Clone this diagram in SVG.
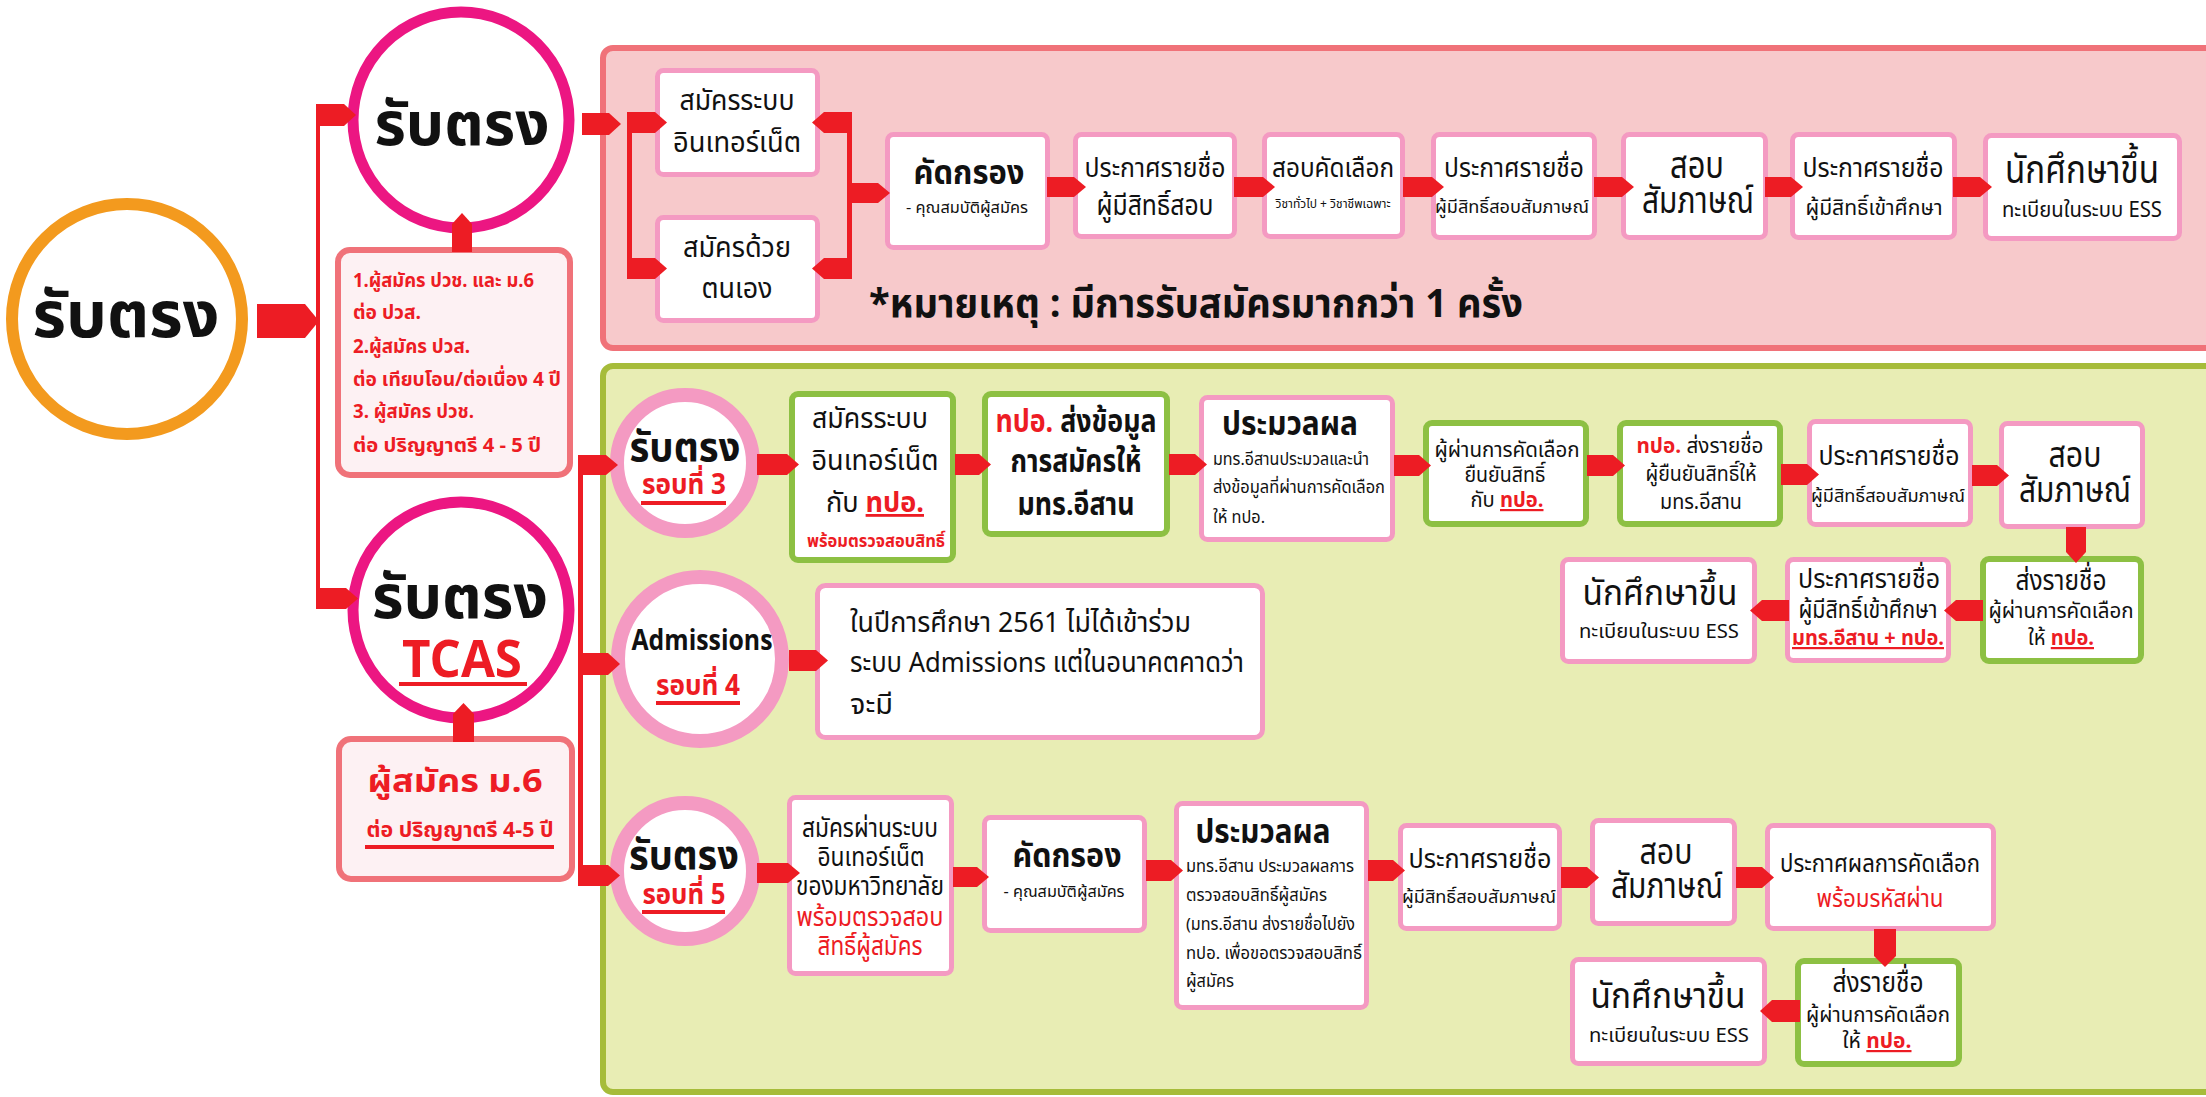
<svg xmlns="http://www.w3.org/2000/svg" width="2206" height="1097" viewBox="0 0 2206 1097">
<style>
text{font-family:'Noto Sans Thai','Noto Sans',sans-serif;fill:#111;text-anchor:middle}
.b{font-weight:bold}
.r{fill:#ED1C24}
.s{text-anchor:start}
.u{text-decoration:underline}
.arr{fill:#ED1C24}
.pb{fill:#fff;stroke:#F49AC2;stroke-width:5}
.gb{fill:#fff;stroke:#8DC043;stroke-width:6}
.sb{fill:#FDF1F3;stroke:#F07279;stroke-width:6}
.ring{fill:#fff;stroke:#F49AC2;stroke-width:14}
.mag{fill:#fff;stroke:#EC1682;stroke-width:11}
</style>
<rect width="2206" height="1097" fill="#fff"/>
<g id="panel-top"><rect x="603" y="48" width="1640" height="300" rx="10" fill="#F7C9CB" stroke="#F07279" stroke-width="6"/></g>
<g id="panel-tcas"><rect x="603" y="366" width="1640" height="726" rx="10" fill="#E8EDB4" stroke="#A6BC3A" stroke-width="6"/></g>

<g id="n-main"><circle cx="127" cy="319" r="115" fill="#fff" stroke="#F39A1E" stroke-width="12"/><text class="b" x="126" y="337" font-size="64" textLength="187" lengthAdjust="spacingAndGlyphs">รับตรง</text></g>
<g id="n-direct"><circle class="mag" cx="461" cy="120" r="108"/><text class="b" x="462" y="145" font-size="60" textLength="175" lengthAdjust="spacingAndGlyphs">รับตรง</text></g>
<g id="n-direct-note"><rect class="sb" x="338" y="250" width="232" height="225" rx="12"/>
<text class="b r s" x="353" y="287" font-size="20" textLength="181" lengthAdjust="spacingAndGlyphs">1.ผู้สมัคร ปวช. และ ม.6</text>
<text class="b r s" x="353" y="319" font-size="20" textLength="68" lengthAdjust="spacingAndGlyphs">ต่อ ปวส.</text>
<text class="b r s" x="353" y="353" font-size="20" textLength="117" lengthAdjust="spacingAndGlyphs">2.ผู้สมัคร ปวส.</text>
<text class="b r s" x="353" y="386" font-size="20" textLength="208" lengthAdjust="spacingAndGlyphs">ต่อ เทียบโอน/ต่อเนื่อง 4 ปี</text>
<text class="b r s" x="353" y="418" font-size="20" textLength="121" lengthAdjust="spacingAndGlyphs">3. ผู้สมัคร ปวช.</text>
<text class="b r s" x="353" y="452" font-size="20" textLength="188" lengthAdjust="spacingAndGlyphs">ต่อ ปริญญาตรี 4 - 5 ปี</text></g>
<g id="n-tcas"><circle class="mag" cx="461" cy="610" r="108"/><text class="b" x="460" y="618" font-size="60" textLength="176" lengthAdjust="spacingAndGlyphs">รับตรง</text><text class="b r" x="462" y="677" font-size="52" textLength="120" lengthAdjust="spacingAndGlyphs">TCAS</text><rect class="arr" x="399" y="682" width="128" height="4"/></g>
<g id="n-tcas-note"><rect class="sb" x="339" y="739" width="233" height="140" rx="12"/>
<text class="b r" x="455" y="792" font-size="32" textLength="175" lengthAdjust="spacingAndGlyphs">ผู้สมัคร ม.6</text>
<text class="b r" x="460" y="837" font-size="22" textLength="187" lengthAdjust="spacingAndGlyphs">ต่อ ปริญญาตรี 4-5 ปี</text><rect class="arr" x="365" y="845" width="189" height="4"/></g>

<g id="n-t1"><rect class="pb" x="657.5" y="70.5" width="160" height="104" rx="6"/><text x="737" y="110" font-size="28" textLength="115" lengthAdjust="spacingAndGlyphs">สมัครระบบ</text><text x="737" y="152" font-size="28" textLength="128" lengthAdjust="spacingAndGlyphs">อินเทอร์เน็ต</text></g>
<g id="n-t2"><rect class="pb" x="657.5" y="217.5" width="160" height="103" rx="6"/><text x="737" y="257" font-size="28" textLength="108" lengthAdjust="spacingAndGlyphs">สมัครด้วย</text><text x="737" y="298" font-size="28" textLength="71" lengthAdjust="spacingAndGlyphs">ตนเอง</text></g>
<g id="n-t3"><rect class="pb" x="887.5" y="134.5" width="160" height="113" rx="6"/><text class="b" x="969" y="184" font-size="34" textLength="111" lengthAdjust="spacingAndGlyphs">คัดกรอง</text><text x="967" y="213" font-size="15" textLength="122" lengthAdjust="spacingAndGlyphs">- คุณสมบัติผู้สมัคร</text></g>
<g id="n-t4"><rect class="pb" x="1075.5" y="134.5" width="159" height="102" rx="6"/><text x="1155" y="177" font-size="26" textLength="141" lengthAdjust="spacingAndGlyphs">ประกาศรายชื่อ</text><text x="1155" y="215" font-size="28" textLength="117" lengthAdjust="spacingAndGlyphs">ผู้มีสิทธิ์สอบ</text></g>
<g id="n-t5"><rect class="pb" x="1264.5" y="134.5" width="138" height="102" rx="6"/><text x="1333" y="177" font-size="26" textLength="122" lengthAdjust="spacingAndGlyphs">สอบคัดเลือก</text><text x="1333" y="208" font-size="13" textLength="115" lengthAdjust="spacingAndGlyphs">วิชาทั่วไป + วิชาชีพเฉพาะ</text></g>
<g id="n-t6"><rect class="pb" x="1433.5" y="134.5" width="161" height="103" rx="6"/><text x="1514" y="177" font-size="26" textLength="140" lengthAdjust="spacingAndGlyphs">ประกาศรายชื่อ</text><text x="1512" y="213" font-size="18" textLength="154" lengthAdjust="spacingAndGlyphs">ผู้มีสิทธิ์สอบสัมภาษณ์</text></g>
<g id="n-t7"><rect class="pb" x="1623.5" y="134.5" width="142" height="103" rx="6"/><text x="1697" y="178" font-size="38" textLength="54" lengthAdjust="spacingAndGlyphs">สอบ</text><text x="1698" y="213" font-size="38" textLength="112" lengthAdjust="spacingAndGlyphs">สัมภาษณ์</text></g>
<g id="n-t8"><rect class="pb" x="1792.5" y="134.5" width="162" height="103" rx="6"/><text x="1873" y="177" font-size="26" textLength="141" lengthAdjust="spacingAndGlyphs">ประกาศรายชื่อ</text><text x="1874" y="215" font-size="22" textLength="137" lengthAdjust="spacingAndGlyphs">ผู้มีสิทธิ์เข้าศึกษา</text></g>
<g id="n-t9"><rect class="pb" x="1985.5" y="135.5" width="194" height="103" rx="6"/><text x="2082" y="183" font-size="40" textLength="154" lengthAdjust="spacingAndGlyphs">นักศึกษาขึ้น</text><text x="2082" y="217" font-size="22" textLength="160" lengthAdjust="spacingAndGlyphs">ทะเบียนในระบบ ESS</text></g>
<g id="n-note"><text class="b s" x="869" y="317" font-size="40" textLength="654" lengthAdjust="spacingAndGlyphs">*หมายเหตุ : มีการรับสมัครมากกว่า 1 ครั้ง</text></g>

<g id="n-r3"><circle class="ring" cx="685" cy="463" r="68"/><text class="b" x="685" y="461" font-size="40" textLength="111" lengthAdjust="spacingAndGlyphs">รับตรง</text><text class="b r" x="684" y="494" font-size="28" textLength="84" lengthAdjust="spacingAndGlyphs">รอบที่ 3</text><rect class="arr" x="641" y="501" width="85" height="4"/></g>
<g id="n-r3a"><rect class="gb" x="792" y="394" width="161" height="166" rx="6"/><text x="870" y="428" font-size="28" textLength="116" lengthAdjust="spacingAndGlyphs">สมัครระบบ</text><text x="875" y="470" font-size="28" textLength="127" lengthAdjust="spacingAndGlyphs">อินเทอร์เน็ต</text><text x="875" y="512" font-size="28" textLength="98" lengthAdjust="spacingAndGlyphs">กับ <tspan class="b r u">ทปอ.</tspan></text><text class="b r" x="876" y="547" font-size="17" textLength="138" lengthAdjust="spacingAndGlyphs">พร้อมตรวจสอบสิทธิ์</text></g>
<g id="n-r3b"><rect class="gb" x="985" y="394" width="182" height="140" rx="6"/><text class="b" x="1076" y="432" font-size="31" textLength="161" lengthAdjust="spacingAndGlyphs"><tspan class="r">ทปอ.</tspan> ส่งข้อมูล</text><text class="b" x="1076" y="472" font-size="31" textLength="131" lengthAdjust="spacingAndGlyphs">การสมัครให้</text><text class="b" x="1076" y="515" font-size="31" textLength="117" lengthAdjust="spacingAndGlyphs">มทร.อีสาน</text></g>
<g id="n-r3c"><rect class="pb" x="1201.5" y="397.5" width="191" height="142" rx="6"/><text class="b" x="1290" y="435" font-size="33" textLength="136" lengthAdjust="spacingAndGlyphs">ประมวลผล</text><text class="s" x="1213" y="465" font-size="17" textLength="156" lengthAdjust="spacingAndGlyphs">มทร.อีสานประมวลและนำ</text><text class="s" x="1213" y="493" font-size="17" textLength="172" lengthAdjust="spacingAndGlyphs">ส่งข้อมูลที่ผ่านการคัดเลือก</text><text class="s" x="1213" y="523" font-size="17" textLength="52" lengthAdjust="spacingAndGlyphs">ให้ ทปอ.</text></g>
<g id="n-r3d"><rect class="gb" x="1426" y="423" width="160" height="101" rx="6"/><text x="1507" y="457" font-size="22" textLength="145" lengthAdjust="spacingAndGlyphs">ผู้ผ่านการคัดเลือก</text><text x="1505" y="482" font-size="22" textLength="81" lengthAdjust="spacingAndGlyphs">ยืนยันสิทธิ์</text><text x="1507" y="507" font-size="22" textLength="73" lengthAdjust="spacingAndGlyphs">กับ <tspan class="b r u">ทปอ.</tspan></text></g>
<g id="n-r3e"><rect class="gb" x="1620" y="423" width="160" height="101" rx="6"/><text x="1700" y="453" font-size="22" textLength="127" lengthAdjust="spacingAndGlyphs"><tspan class="b r">ทปอ.</tspan> ส่งรายชื่อ</text><text x="1701" y="481" font-size="22" textLength="111" lengthAdjust="spacingAndGlyphs">ผู้ยืนยันสิทธิ์ให้</text><text x="1701" y="509" font-size="22" textLength="82" lengthAdjust="spacingAndGlyphs">มทร.อีสาน</text></g>
<g id="n-r3f"><rect class="pb" x="1809.5" y="421.5" width="161" height="103" rx="6"/><text x="1889" y="465" font-size="26" textLength="141" lengthAdjust="spacingAndGlyphs">ประกาศรายชื่อ</text><text x="1888" y="502" font-size="18" textLength="154" lengthAdjust="spacingAndGlyphs">ผู้มีสิทธิ์สอบสัมภาษณ์</text></g>
<g id="n-r3g"><rect class="pb" x="2001.5" y="423.5" width="141" height="103" rx="6"/><text x="2075" y="467" font-size="36" textLength="53" lengthAdjust="spacingAndGlyphs">สอบ</text><text x="2075" y="502" font-size="36" textLength="112" lengthAdjust="spacingAndGlyphs">สัมภาษณ์</text></g>
<g id="n-r3h"><rect class="gb" x="1983" y="559" width="158" height="102" rx="6"/><text x="2061" y="590" font-size="28" textLength="91" lengthAdjust="spacingAndGlyphs">ส่งรายชื่อ</text><text x="2061" y="618" font-size="22" textLength="145" lengthAdjust="spacingAndGlyphs">ผู้ผ่านการคัดเลือก</text><text x="2061" y="645" font-size="22" textLength="66" lengthAdjust="spacingAndGlyphs">ให้ <tspan class="b r u">ทปอ.</tspan></text></g>
<g id="n-r3i"><rect class="pb" x="1787.5" y="559.5" width="161" height="101" rx="6"/><text x="1869" y="588" font-size="26" textLength="142" lengthAdjust="spacingAndGlyphs">ประกาศรายชื่อ</text><text x="1868" y="618" font-size="24" textLength="139" lengthAdjust="spacingAndGlyphs">ผู้มีสิทธิ์เข้าศึกษา</text><text class="b r u" x="1868" y="645" font-size="22" textLength="152" lengthAdjust="spacingAndGlyphs">มทร.อีสาน + ทปอ.</text></g>
<g id="n-r3j"><rect class="pb" x="1562.5" y="559.5" width="192" height="102" rx="6"/><text x="1660" y="605" font-size="36" textLength="155" lengthAdjust="spacingAndGlyphs">นักศึกษาขึ้น</text><text x="1659" y="638" font-size="20" textLength="160" lengthAdjust="spacingAndGlyphs">ทะเบียนในระบบ ESS</text></g>

<g id="n-r4"><circle class="ring" cx="700" cy="659" r="82"/><text class="b" x="702" y="650" font-size="28" textLength="141" lengthAdjust="spacingAndGlyphs">Admissions</text><text class="b r" x="698" y="695" font-size="28" textLength="84" lengthAdjust="spacingAndGlyphs">รอบที่ 4</text><rect class="arr" x="656" y="701" width="84" height="4"/></g>
<g id="n-r4a"><rect class="pb" x="817.5" y="585.5" width="445" height="152" rx="8"/><text class="s" x="850" y="632" font-size="28" textLength="341" lengthAdjust="spacingAndGlyphs">ในปีการศึกษา 2561 ไม่ได้เข้าร่วม</text><text class="s" x="850" y="672" font-size="28" textLength="394" lengthAdjust="spacingAndGlyphs">ระบบ Admissions แต่ในอนาคตคาดว่า</text><text class="s" x="850" y="714" font-size="28" textLength="43" lengthAdjust="spacingAndGlyphs">จะมี</text></g>

<g id="n-r5"><circle class="ring" cx="685" cy="871" r="68"/><text class="b" x="684" y="869" font-size="40" textLength="110" lengthAdjust="spacingAndGlyphs">รับตรง</text><text class="b r" x="684" y="904" font-size="28" textLength="83" lengthAdjust="spacingAndGlyphs">รอบที่ 5</text><rect class="arr" x="642" y="910" width="83" height="4"/></g>
<g id="n-r5a"><rect class="pb" x="789.5" y="797.5" width="162" height="176" rx="6"/><text x="870" y="837" font-size="26" textLength="136" lengthAdjust="spacingAndGlyphs">สมัครผ่านระบบ</text><text x="871" y="866" font-size="26" textLength="107" lengthAdjust="spacingAndGlyphs">อินเทอร์เน็ต</text><text x="870" y="895" font-size="26" textLength="148" lengthAdjust="spacingAndGlyphs">ของมหาวิทยาลัย</text><text class="r" x="870" y="926" font-size="26" textLength="147" lengthAdjust="spacingAndGlyphs">พร้อมตรวจสอบ</text><text class="r" x="870" y="955" font-size="26" textLength="105" lengthAdjust="spacingAndGlyphs">สิทธิ์ผู้สมัคร</text></g>
<g id="n-r5b"><rect class="pb" x="984.5" y="817.5" width="160" height="113" rx="6"/><text class="b" x="1067" y="867" font-size="34" textLength="109" lengthAdjust="spacingAndGlyphs">คัดกรอง</text><text x="1064" y="897" font-size="16" textLength="121" lengthAdjust="spacingAndGlyphs">- คุณสมบัติผู้สมัคร</text></g>
<g id="n-r5c"><rect class="pb" x="1176.5" y="803.5" width="190" height="204" rx="6"/><text class="b" x="1263" y="843" font-size="33" textLength="135" lengthAdjust="spacingAndGlyphs">ประมวลผล</text><text class="s" x="1186" y="872" font-size="17" textLength="168" lengthAdjust="spacingAndGlyphs">มทร.อีสาน ประมวลผลการ</text><text class="s" x="1186" y="901" font-size="17" textLength="141" lengthAdjust="spacingAndGlyphs">ตรวจสอบสิทธิ์ผู้สมัคร</text><text class="s" x="1186" y="930" font-size="17" textLength="169" lengthAdjust="spacingAndGlyphs">(มทร.อีสาน ส่งรายชื่อไปยัง</text><text class="s" x="1186" y="959" font-size="17" textLength="176" lengthAdjust="spacingAndGlyphs">ทปอ. เพื่อขอตรวจสอบสิทธิ์</text><text class="s" x="1186" y="987" font-size="17" textLength="48" lengthAdjust="spacingAndGlyphs">ผู้สมัคร</text></g>
<g id="n-r5d"><rect class="pb" x="1400.5" y="825.5" width="159" height="103" rx="6"/><text x="1480" y="868" font-size="26" textLength="143" lengthAdjust="spacingAndGlyphs">ประกาศรายชื่อ</text><text x="1479" y="903" font-size="18" textLength="154" lengthAdjust="spacingAndGlyphs">ผู้มีสิทธิ์สอบสัมภาษณ์</text></g>
<g id="n-r5e"><rect class="pb" x="1592.5" y="820.5" width="142" height="103" rx="6"/><text x="1666" y="864" font-size="36" textLength="53" lengthAdjust="spacingAndGlyphs">สอบ</text><text x="1667" y="898" font-size="36" textLength="112" lengthAdjust="spacingAndGlyphs">สัมภาษณ์</text></g>
<g id="n-r5f"><rect class="pb" x="1767.5" y="825.5" width="226" height="103" rx="6"/><text x="1880" y="872" font-size="24" textLength="200" lengthAdjust="spacingAndGlyphs">ประกาศผลการคัดเลือก</text><text class="r" x="1880" y="907" font-size="24" textLength="127" lengthAdjust="spacingAndGlyphs">พร้อมรหัสผ่าน</text></g>
<g id="n-r5g"><rect class="gb" x="1798" y="961" width="161" height="103" rx="6"/><text x="1878" y="992" font-size="28" textLength="91" lengthAdjust="spacingAndGlyphs">ส่งรายชื่อ</text><text x="1878" y="1022" font-size="22" textLength="144" lengthAdjust="spacingAndGlyphs">ผู้ผ่านการคัดเลือก</text><text x="1877" y="1048" font-size="22" textLength="69" lengthAdjust="spacingAndGlyphs">ให้ <tspan class="b r u">ทปอ.</tspan></text></g>
<g id="n-r5h"><rect class="pb" x="1572.5" y="959.5" width="192" height="104" rx="6"/><text x="1668" y="1008" font-size="36" textLength="155" lengthAdjust="spacingAndGlyphs">นักศึกษาขึ้น</text><text x="1669" y="1042" font-size="20" textLength="160" lengthAdjust="spacingAndGlyphs">ทะเบียนในระบบ ESS</text></g>

<g id="connectors">
<polygon class="arr" points="257,304 305,304 319,321 305,338 257,338"/>
<rect class="arr" x="316" y="104" width="4" height="505"/>
<polygon class="arr" points="316,104 344,104 356,115 344,126 316,126"/>
<polygon class="arr" points="316,588 346,588 358,598.5 346,609 316,609"/>
<polygon class="arr" points="452,252 452,224 462,213 472,224 472,252"/>
<polygon class="arr" points="453,742 453,714 463.5,703 474,714 474,742"/>
<polygon class="arr" points="582,113 609,113 621,124 609,135 582,135"/>
<rect class="arr" x="627" y="112" width="5" height="167"/>
<polygon class="arr" points="627,112 655,112 667,122.5 655,133 627,133"/>
<polygon class="arr" points="627,258 655,258 667,268.5 655,279 627,279"/>
<rect class="arr" x="847" y="112" width="5" height="167"/>
<polygon class="arr" points="852,112 824,112 812,122.5 824,133 852,133"/>
<polygon class="arr" points="852,258 824,258 812,268.5 824,279 852,279"/>
<polygon class="arr" points="850,183 878,183 890,193 878,203 850,203"/>
<polygon class="arr" points="1047,177 1074,177 1086,187 1074,197 1047,197"/>
<polygon class="arr" points="1234,177 1263,177 1275,187 1263,197 1234,197"/>
<polygon class="arr" points="1403,177 1432,177 1444,187 1432,197 1403,197"/>
<polygon class="arr" points="1594,177 1622,177 1634,187 1622,197 1594,197"/>
<polygon class="arr" points="1765,177 1791,177 1803,187 1791,197 1765,197"/>
<polygon class="arr" points="1953,177 1980,177 1992,187 1980,197 1953,197"/>
<rect class="arr" x="578" y="455" width="5" height="431"/>
<polygon class="arr" points="578,455 606,455 618,465 606,475 578,475"/>
<polygon class="arr" points="578,653 608,653 620,664 608,675 578,675"/>
<polygon class="arr" points="578,865 608,865 620,875.5 608,886 578,886"/>
<polygon class="arr" points="757,454 787,454 799,464.5 787,475 757,475"/>
<polygon class="arr" points="955,454 979,454 991,464.5 979,475 955,475"/>
<polygon class="arr" points="1169,454 1195,454 1207,464.5 1195,475 1169,475"/>
<polygon class="arr" points="1394,455 1419,455 1431,465.5 1419,476 1394,476"/>
<polygon class="arr" points="1587,455 1613,455 1625,465.5 1613,476 1587,476"/>
<polygon class="arr" points="1781,464 1807,464 1819,474.5 1807,485 1781,485"/>
<polygon class="arr" points="1972,465 1997,465 2009,475.5 1997,486 1972,486"/>
<polygon class="arr" points="2066,527 2086,527 2086,552 2076,563 2066,552"/>
<polygon class="arr" points="1983,600 1956,600 1944,610.5 1956,621 1983,621"/>
<polygon class="arr" points="1789,600 1762,600 1750,610.5 1762,621 1789,621"/>
<polygon class="arr" points="789,650 816,650 828,660.5 816,671 789,671"/>
<polygon class="arr" points="757,863 788,863 800,873 788,883 757,883"/>
<polygon class="arr" points="953,867 977,867 989,877 977,887 953,887"/>
<polygon class="arr" points="1146,860 1171,860 1183,870.5 1171,881 1146,881"/>
<polygon class="arr" points="1368,860 1393,860 1405,870.5 1393,881 1368,881"/>
<polygon class="arr" points="1561,867 1587,867 1599,877.5 1587,888 1561,888"/>
<polygon class="arr" points="1736,867 1762,867 1774,877.5 1762,888 1736,888"/>
<polygon class="arr" points="1874,929 1896,929 1896,956 1885,967 1874,956"/>
<polygon class="arr" points="1800,1000 1772,1000 1760,1011 1772,1022 1800,1022"/>
</g>
</svg>
